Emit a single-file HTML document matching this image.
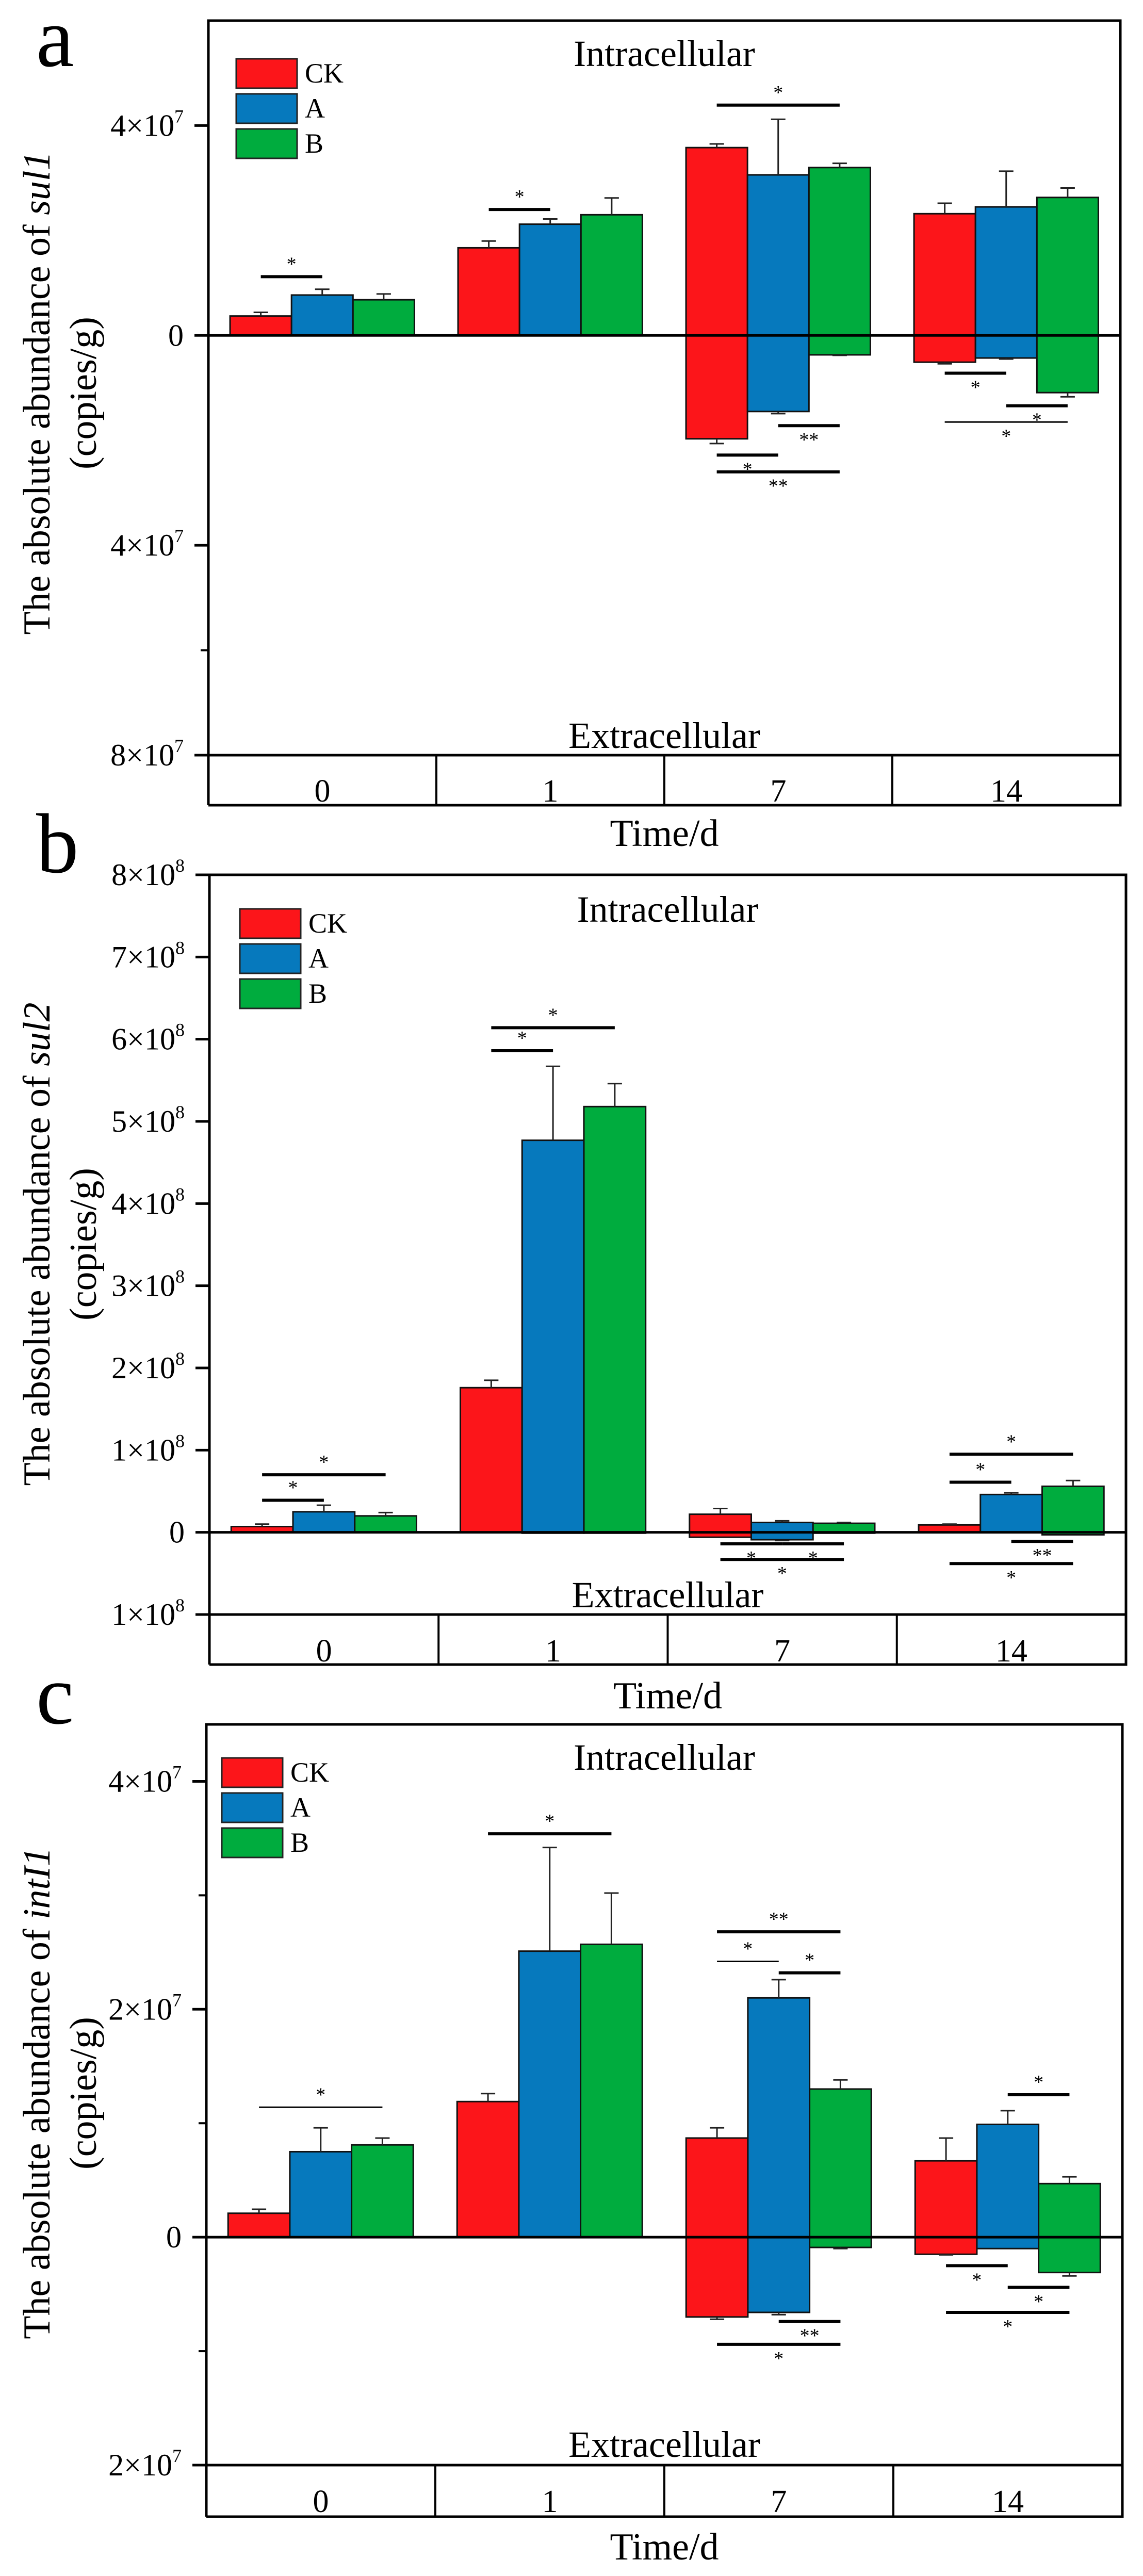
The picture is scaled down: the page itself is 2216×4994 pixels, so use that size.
<!DOCTYPE html>
<html><head><meta charset="utf-8">
<style>
html,body{margin:0;padding:0;background:#fff;}
svg{display:block;font-family:"Liberation Serif",serif;}
</style></head>
<body>
<svg id="fig" width="2216" height="4994" viewBox="0 0 2216 4994" xmlns="http://www.w3.org/2000/svg"></svg>
<script>
// ---------- shared data ----------
const categories = ['0','1','7','14'];
const seriesNames = ['CK','A','B'];

// ---------- panel a: sul1 (x 1e7) ----------
const aIntraCK = [0.37,1.67,3.58,2.32];
const aIntraCKErr = [0.07,0.13,0.07,0.20];
const aIntraA = [0.77,2.12,3.06,2.45];
const aIntraAErr = [0.11,0.10,1.06,0.68];
const aIntraB = [0.68,2.30,3.20,2.63];
const aIntraBErr = [0.11,0.32,0.08,0.18];
const aExtraCK = [0,0,1.97,0.51];
const aExtraCKErr = [0,0,0.09,0.03];
const aExtraA = [0,0,1.45,0.43];
const aExtraAErr = [0,0,0.04,0.02];
const aExtraB = [0,0,0.37,1.09];
const aExtraBErr = [0,0,0.01,0.08];
const aTickVals = [4,0,-4,-8];
const aTickMant = ['4','0','4','8'];
const aTickExp = '7';
const aMinorTicks = [-6];
const aSigGroup = [0,1,2,2,2,2,3,3,3];
const aSigFrom  = [0,0,0,1,0,0,0,1,0];
const aSigTo    = [1,1,2,2,1,2,1,2,2];
const aSigY     = [1.12,2.40,4.39,-1.72,-2.28,-2.60,-0.72,-1.34,-1.65];
const aSigLabel = ['*','*','*','**','*','**','*','*','*'];
const aSigThin  = [0,0,0,0,0,0,0,0,1];

// ---------- panel b: sul2 (x 1e8) ----------
const bIntraCK = [0.07,1.76,0.22,0.09];
const bIntraCKErr = [0.03,0.09,0.07,0.01];
const bIntraA = [0.25,4.77,0.12,0.46];
const bIntraAErr = [0.08,0.90,0.02,0.02];
const bIntraB = [0.20,5.18,0.11,0.56];
const bIntraBErr = [0.04,0.28,0.01,0.07];
const bExtraCK = [0,0,0.06,0.005];
const bExtraCKErr = [0,0,0,0];
const bExtraA = [0,0.01,0.09,0.005];
const bExtraAErr = [0,0,0.01,0];
const bExtraB = [0,0.01,0.01,0.03];
const bExtraBErr = [0,0,0,0];
const bTickVals = [8,7,6,5,4,3,2,1,0,-1];
const bTickMant = ['8','7','6','5','4','3','2','1','0','1'];
const bTickExp = '8';
const bMinorTicks = [];
const bSigGroup = [0,0,1,1,2,2,2,3,3,3,3];
const bSigFrom  = [0,0,0,0,0,1,0,0,0,1,0];
const bSigTo    = [2,1,2,1,1,2,2,2,1,2,2];
const bSigY     = [0.70,0.39,6.14,5.86,-0.14,-0.14,-0.33,0.95,0.61,-0.11,-0.38];
const bSigLabel = ['*','*','*','*','*','*','*','*','*','**','*'];
const bSigThin  = [0,0,0,0,0,0,0,0,0,0,0];

// ---------- panel c: intI1 (x 1e7) ----------
const cIntraCK = [0.21,1.19,0.87,0.67];
const cIntraCKErr = [0.035,0.07,0.09,0.20];
const cIntraA = [0.75,2.51,2.10,0.99];
const cIntraAErr = [0.21,0.91,0.16,0.12];
const cIntraB = [0.81,2.57,1.30,0.47];
const cIntraBErr = [0.06,0.45,0.08,0.06];
const cExtraCK = [0,0,0.70,0.15];
const cExtraCKErr = [0,0,0.02,0.005];
const cExtraA = [0,0,0.66,0.10];
const cExtraAErr = [0,0,0.02,0];
const cExtraB = [0,0,0.09,0.31];
const cExtraBErr = [0,0,0.01,0.03];
const cTickVals = [4,2,0,-2];
const cTickMant = ['4','2','0','2'];
const cTickExp = '7';
const cMinorTicks = [3,1,-1];
const cSigGroup = [0,1,2,2,2,2,2,3,3,3,3];
const cSigFrom  = [0,0,0,0,1,1,0,1,0,1,0];
const cSigTo    = [2,2,2,1,2,2,2,2,1,2,2];
const cSigY     = [1.14,3.54,2.68,2.42,2.32,-0.74,-0.94,1.25,-0.25,-0.44,-0.66];
const cSigLabel = ['*','*','**','*','*','**','*','*','*','*','*'];
const cSigThin  = [1,0,0,1,0,0,0,0,0,0,0];

const colors = ['#fc151a','#0679bd','#00ac3e'];
const NS = 'http://www.w3.org/2000/svg';
const svg = document.getElementById('fig');

function mk(tag, attrs, parent){
  const e = document.createElementNS(NS, tag);
  for (const k in attrs) e.setAttribute(k, attrs[k]);
  (parent||svg).appendChild(e);
  return e;
}

const panels = [
  {id:'a', gene:'sul1', left:404, right:2172, top:40, bottom:1464, boxBottom:1561, ymax:6, ymin:-8,
   letterY:128, titleY:762, timeY:1640, intraY:128, extraY:1450, catY:1532, legX:458, legY:114,
   intra:[aIntraCK,aIntraA,aIntraB], intraErr:[aIntraCKErr,aIntraAErr,aIntraBErr],
   extra:[aExtraCK,aExtraA,aExtraB], extraErr:[aExtraCKErr,aExtraAErr,aExtraBErr],
   ticks:aTickVals, mant:aTickMant, exp:aTickExp, minor:aMinorTicks,
   sg:aSigGroup, sf:aSigFrom, st:aSigTo, sy:aSigY, sl:aSigLabel, sth:aSigThin},
  {id:'b', gene:'sul2', left:406, right:2183, top:1696, bottom:3130, ymax:8, ymin:-1,
   letterY:1691, titleY:2412, timeY:3312, intraY:1787, extraY:3116, catY:3199, legX:465, legY:1762,
   intra:[bIntraCK,bIntraA,bIntraB], intraErr:[bIntraCKErr,bIntraAErr,bIntraBErr],
   extra:[bExtraCK,bExtraA,bExtraB], extraErr:[bExtraCKErr,bExtraAErr,bExtraBErr],
   ticks:bTickVals, mant:bTickMant, exp:bTickExp, minor:bMinorTicks,
   sg:bSigGroup, sf:bSigFrom, st:bSigTo, sy:bSigY, sl:bSigLabel, sth:bSigThin, boxBottom:3227},
  {id:'c', gene:'intI1', left:400, right:2176, top:3343, bottom:4779, boxBottom:4879, ymax:4.5, ymin:-2,
   letterY:3341, titleY:4058, timeY:4962, intraY:3431, extraY:4763, catY:4848, legX:430, legY:3408,
   intra:[cIntraCK,cIntraA,cIntraB], intraErr:[cIntraCKErr,cIntraAErr,cIntraBErr],
   extra:[cExtraCK,cExtraA,cExtraB], extraErr:[cExtraCKErr,cExtraAErr,cExtraBErr],
   ticks:cTickVals, mant:cTickMant, exp:cTickExp, minor:cMinorTicks,
   sg:cSigGroup, sf:cSigFrom, st:cSigTo, sy:cSigY, sl:cSigLabel, sth:cSigThin}
];

panels.forEach(p => {
  const g = mk('g', {});
  
  
  const yS = v => p.top + (p.ymax - v) / (p.ymax - p.ymin) * (p.bottom - p.top);
  const gw = (p.right - p.left) / categories.length;
  const bw = gw * 119 / 441.5;
  const off = gw * 42 / 441.5;
  const barX = (gi, si) => p.left + gi * gw + off + si * bw;
  const cx = (p.left + p.right) / 2;
  const y0 = yS(0);

  // panel letter
  const L = mk('text', {x:70, y:p.letterY, 'font-size':165}, g);
  L.textContent = p.id;
  
  

  // y-axis title
  const t1 = mk('text', {x:0, y:0, 'font-size':74, 'text-anchor':'middle', transform:`translate(96,${p.titleY}) rotate(-90)`}, g);
  t1.innerHTML = 'The absolute abundance of <tspan font-style="italic">' + p.gene + '</tspan>';
  
  
  const t2 = mk('text', {x:0, y:0, 'font-size':74, 'text-anchor':'middle', transform:`translate(186,${p.titleY}) rotate(-90)`}, g);
  t2.textContent = '(copies/g)';
  
  

  // bars
  for (let si = 0; si < 3; si++) {
    for (let gi = 0; gi < categories.length; gi++) {
      const vi = p.intra[si][gi];
      if (vi > 0) {
        const r = mk('rect', {x:barX(gi,si), y:yS(vi), width:bw, height:y0 - yS(vi), fill:colors[si], stroke:'#111', 'stroke-width':3}, g);
        
        
      }
      const ve = p.extra[si][gi];
      if (ve > 0) {
        const r2 = mk('rect', {x:barX(gi,si), y:y0, width:bw, height:yS(-ve) - y0, fill:colors[si], stroke:'#111', 'stroke-width':3}, g);
        
        
      }
    }
  }
  // error bars
  for (let si = 0; si < 3; si++) {
    for (let gi = 0; gi < categories.length; gi++) {
      const xc = barX(gi,si) + bw/2;
      const vi = p.intra[si][gi], ei = p.intraErr[si][gi];
      if (vi > 0 && ei > 0) {
        const e = mk('path', {d:`M${xc},${yS(vi)}V${yS(vi+ei)}M${xc-14},${yS(vi+ei)}H${xc+14}`, stroke:'#222', 'stroke-width':3, fill:'none'}, g);
        
        
      }
      const ve = p.extra[si][gi], ee = p.extraErr[si][gi];
      if (ve > 0 && ee > 0) {
        const e2 = mk('path', {d:`M${xc},${yS(-ve)}V${yS(-ve-ee)}M${xc-14},${yS(-ve-ee)}H${xc+14}`, stroke:'#222', 'stroke-width':3, fill:'none'}, g);
        
        
      }
    }
  }
  // zero line
  const zl = mk('line', {x1:p.left, x2:p.right, y1:y0, y2:y0, stroke:'#000', 'stroke-width':5}, g);
  
  

  // significance brackets
  for (let k = 0; k < p.sy.length; k++) {
    const x1 = barX(p.sg[k], p.sf[k]) + bw/2;
    const x2 = barX(p.sg[k], p.st[k]) + bw/2;
    const yy = yS(p.sy[k]);
    const ln = mk('line', {x1:x1, x2:x2, y1:yy, y2:yy, stroke:'#000', 'stroke-width':p.sth[k] ? 3 : 6}, g);
    
    
    const above = p.sy[k] > 0;
    const st = mk('text', {x:(x1+x2)/2, y:above ? yy - 12 : yy + 40, 'font-size':38, 'text-anchor':'middle'}, g);
    st.textContent = p.sl[k];
    
    
  }

  // frame
  const fr = mk('path', {d:`M${p.left},${p.boxBottom}V${p.top}H${p.right}V${p.boxBottom}H${p.left}M${p.left},${p.bottom}H${p.right}`, stroke:'#000', 'stroke-width':5, fill:'none'}, g);
  
  
  for (let gi = 1; gi < categories.length; gi++) {
    const xd = p.left + gi * gw;
    const dv = mk('line', {x1:xd, x2:xd, y1:p.bottom, y2:p.boxBottom, stroke:'#000', 'stroke-width':4}, g);
    
    
  }
  categories.forEach((c, gi) => {
    const ct = mk('text', {x:p.left + (gi+0.5)*gw, y:p.catY + 22, 'font-size':62, 'text-anchor':'middle'}, g);
    ct.textContent = c;
    
    
  });

  // y ticks
  p.ticks.forEach((v, i) => {
    const yy = yS(v);
    const tk = mk('line', {x1:p.left - 27, x2:p.left, y1:yy, y2:yy, stroke:'#000', 'stroke-width':5}, g);
    
    
    const tl = mk('text', {x:p.left - 48, y:yy + 20, 'font-size':60, 'text-anchor':'end'}, g);
    if (v === 0) tl.textContent = '0';
    else tl.innerHTML = p.mant[i] + '×10<tspan dy="-26" font-size="36">' + p.exp + '</tspan>';
    
    
  });
  p.minor.forEach(v => {
    const yy = yS(v);
    const mt = mk('line', {x1:p.left - 15, x2:p.left, y1:yy, y2:yy, stroke:'#000', 'stroke-width':4}, g);
    
    
  });

  // labels
  const it = mk('text', {x:cx, y:p.intraY, 'font-size':72, 'text-anchor':'middle'}, g);
  it.textContent = 'Intracellular';
  
  
  const et = mk('text', {x:cx, y:p.extraY, 'font-size':72, 'text-anchor':'middle'}, g);
  et.textContent = 'Extracellular';
  
  
  const tt = mk('text', {x:cx, y:p.timeY, 'font-size':74, 'text-anchor':'middle'}, g);
  tt.textContent = 'Time/d';
  
  

  // legend
  seriesNames.forEach((s, si) => {
    const ly = p.legY + si * 68;
    const sw = mk('rect', {x:p.legX, y:ly, width:118, height:57, fill:colors[si], stroke:'#222', 'stroke-width':3}, g);
    
    
    const lt = mk('text', {x:p.legX + 133, y:ly + 46, 'font-size':54}, g);
    lt.textContent = s;
    
    
  });
});
</script>
</body></html>
